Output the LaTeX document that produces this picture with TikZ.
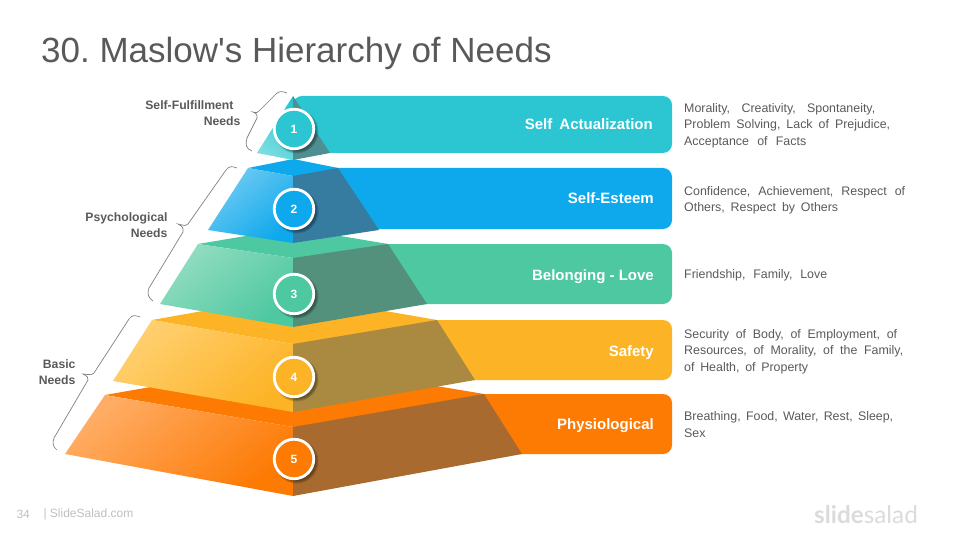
\documentclass[tikz,border=0pt]{standalone}
\usepackage{fontspec}
\setmainfont{Liberation Sans}
\newfontfamily\logofont{Lato}
\definecolor{tealC}{HTML}{2CC6D3}
\definecolor{tealL}{HTML}{7ADDE0}
\definecolor{tealD}{HTML}{4F8F92}
\definecolor{blueC}{HTML}{0EA9EC}
\definecolor{blueL}{HTML}{72CBF3}
\definecolor{blueD}{HTML}{367BA0}
\definecolor{greenC}{HTML}{4DC8A0}
\definecolor{greenL}{HTML}{93DDC1}
\definecolor{greenD}{HTML}{54917C}
\definecolor{yellowC}{HTML}{FDB326}
\definecolor{yellowL}{HTML}{FFD070}
\definecolor{yellowD}{HTML}{A98A40}
\definecolor{orangeC}{HTML}{FD7A03}
\definecolor{orangeL}{HTML}{FFAD66}
\definecolor{orangeD}{HTML}{A96A30}
\definecolor{inkC}{HTML}{595959}
\newcommand{\fitline}[2]{\makebox[#1pt][s]{#2}}
\tikzset{
    barlabel/.style={anchor=base east, inner sep=0, text=white, font=\bfseries\fontsize{15}{19}\selectfont},
    desc/.style={anchor=west, inner sep=0, align=left, text=inkC, font=\fontsize{12.4}{16.3}\selectfont},
    needs/.style={anchor=east, align=right, text=inkC, font=\bfseries\fontsize{12.2}{15.5}\selectfont},
    brace/.style={draw=black!50, line width=0.7pt},
    foot/.style={anchor=west, text=black!25, font=\fontsize{12}{14}\selectfont},
}
\begin{document}
\frenchspacing
\begin{tikzpicture}[x=1pt, y=-1pt]
    \useasboundingbox (0,0) rectangle (960,540);
    \node[anchor=base west, inner sep=0, text=inkC, font=\fontsize{35}{40}\selectfont] (title) at (41,63) {30. Maslow\textquotesingle s Hierarchy of Needs};
    \begin{scope} % Bars behind the pyramid
        \foreach \n/\top/\bot/\c in {1/96/153/tealC, 2/168/229/blueC, 3/244/304/greenC, 4/320/380/yellowC, 5/394/454/orangeC}
            \fill[\c, rounded corners=9pt] (293,\top) rectangle (672,\bot);
    \end{scope}
    \begin{scope} % Physiological
        \fill[orangeC] (105,395) -- (293,362) -- (484,394) -- (293,427) -- cycle;
        \shade[top color=orangeL, bottom color=orangeC, shading angle=40] (105,395) -- (293,427) -- (293,496) -- (65,454) -- cycle;
        \fill[orangeD] (293,427) -- (484,394) -- (522,454) -- (293,496) -- cycle;
    \end{scope}
    \begin{scope} % Safety
        \fill[yellowC] (152,320) -- (293,295) -- (437,320) -- (293,344) -- cycle;
        \shade[top color=yellowL, bottom color=yellowC, shading angle=40] (152,320) -- (293,344) -- (293,412) -- (113,381) -- cycle;
        \fill[yellowD] (293,344) -- (437,320) -- (475,380) -- (293,412) -- cycle;
    \end{scope}
    \begin{scope} % Belonging
        \fill[greenC] (198,244) -- (293,228) -- (388,244) -- (293,258) -- cycle;
        \shade[top color=greenL, bottom color=greenC, shading angle=40] (198,244) -- (293,258) -- (293,327) -- (160,304) -- cycle;
        \fill[greenD] (293,258) -- (388,244) -- (427,304) -- (293,327) -- cycle;
    \end{scope}
    \begin{scope} % Esteem
        \fill[blueC] (248,168) -- (293,159) -- (338,168) -- (293,176) -- cycle;
        \shade[top color=blueL, bottom color=blueC, shading angle=40] (248,168) -- (293,176) -- (293,243) -- (208,230) -- cycle;
        \fill[blueD] (293,176) -- (338,168) -- (379,230) -- (293,243) -- cycle;
    \end{scope}
    \begin{scope} % Top of the pyramid
        \shade[top color=tealC, bottom color=tealL, shading angle=-40] (293,96) -- (293,160) -- (257,153) -- cycle;
        \fill[tealD] (293,96) -- (330,153) -- (293,160) -- cycle;
    \end{scope}
    \begin{scope} % Numbered circles
        \foreach \n/\y/\c in {1/129/tealC, 2/209/blueC, 3/294/greenC, 4/377/yellowC, 5/459/orangeC} {
            \foreach \r in {22,21,20}
                \fill[black, opacity=0.14] (296.5,\y+2.5) circle (\r);
            \node[circle, minimum size=39.5pt, inner sep=0, draw=white, line width=2.8pt, fill=\c, text=white, font=\bfseries\fontsize{12}{14}\selectfont] (num\n) at (294,\y) {\n};
        }
    \end{scope}
    \begin{scope} % Bar labels
        \node[barlabel] (lblActual) at (653,130) {\fitline{128}{Self Actualization}};
        \node[barlabel] (lblEsteem) at (654,204) {Self-Esteem};
        \node[barlabel] (lblLove) at (654,280) {Belonging - Love};
        \node[barlabel] (lblSafety) at (654,356) {Safety};
        \node[barlabel] (lblPhysio) at (654,429) {Physiological};
    \end{scope}
    \begin{scope} % Descriptions
        \node[desc] (descActual) at (684,125.7) {\fitline{191}{Morality, Creativity, Spontaneity,}\\\fitline{206}{Problem Solving, Lack of Prejudice,}\\\fitline{122}{Acceptance of Facts}};
        \node[desc] (descEsteem) at (684,200.2) {\fitline{221}{Confidence, Achievement, Respect of}\\\fitline{154}{Others, Respect by Others}};
        \node[desc] (descLove) at (684,275) {\fitline{143}{Friendship, Family, Love}};
        \node[desc] (descSafety) at (684,351.5) {\fitline{213}{Security of Body, of Employment, of}\\\fitline{219}{Resources, of Morality, of the Family,}\\\fitline{124}{of Health, of Property}};
        \node[desc] (descPhysio) at (684,424.5) {\fitline{209}{Breathing, Food, Water, Rest, Sleep,}\\Sex};
    \end{scope}
    \begin{scope} % Needs groups and braces
        \node[needs] (needsTop) at (244,113) {Self-Fulfillment\hspace*{7pt}\\Needs};
        \node[needs] (needsMid) at (171,225) {Psychological\\Needs};
        \node[needs] (needsLow) at (79,372) {Basic\\Needs};
        \draw[brace] (287,93) .. controls (282,91) and (279,91) .. (276,94) -- (259,111) .. controls (257,113) .. (253,112) .. controls (257,114) .. (257,118) -- (247,138) .. controls (245,144) and (246,149) .. (252,151);
        \draw[brace] (237,168) .. controls (232,166) and (229,166) .. (226,170) -- (188,224) .. controls (186,226) .. (178,224) .. controls (183,227) .. (183,232) -- (149,288) .. controls (147,293) and (148,298) .. (153,301);
        \draw[brace] (140,317) .. controls (135,315) and (132,315) .. (129,319) -- (94,373) .. controls (92,375) .. (83,374) .. controls (88,377) .. (88,380) -- (54,438) .. controls (52,443) and (53,447) .. (57,450);
    \end{scope}
    \begin{scope} % Footer
        \node[foot] (page) at (13,514) {34};
        \node[foot] (site) at (40,514) {| SlideSalad.com};
        \node[anchor=base west, inner sep=0, text=black!14, font=\logofont\fontsize{24.3}{28}\selectfont] (logo) at (814,523) {\textbf{slide}salad};
    \end{scope}
\end{tikzpicture}
\end{document}
